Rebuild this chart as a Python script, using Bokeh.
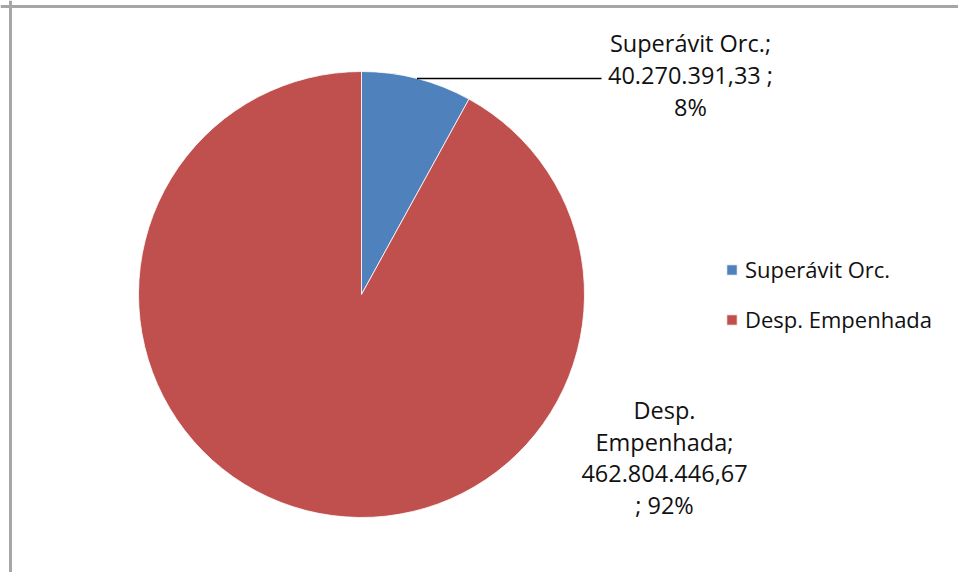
import math
from bokeh.plotting import figure
from bokeh.models import Range1d, Span, Legend, LegendItem
from bokeh.core.properties import value
from bokeh.embed import file_html
from bokeh.resources import INLINE

# ---- data ----
categories = ["Superávit Orc.", "Desp. Empenhada"]
values = [40270391.33, 462804446.67]
value_labels = ["40.270.391,33", "462.804.446,67"]
pct_labels = ["8%", "92%"]
colors = ["#4F81BD", "#C0504D"]

W, H = 958, 572
FONT = "Open Sans"

p = figure(width=W, height=H, output_backend="svg", toolbar_location=None,
           x_range=Range1d(0, W), y_range=Range1d(0, H),
           min_border=0, min_border_left=0, min_border_right=0,
           min_border_top=0, min_border_bottom=0)
p.axis.visible = False
p.grid.visible = False
p.outline_line_color = None
p.background_fill_color = "white"
p.border_fill_color = "white"

# pie geometry (layout)
cx, cy, r = 361, 278, 223

total = sum(values)
fracs = [v / total for v in values]
starts, ends = [], []
a = math.pi / 2
for f in fracs:
    starts.append(a)
    a = a - f * 2 * math.pi
    ends.append(a)

rends = []
for i in range(len(values)):
    rr = p.wedge(x=cx, y=cy, radius=r, start_angle=starts[i], end_angle=ends[i],
                 direction="clock", fill_color=colors[i], line_color="white",
                 line_width=0.8)
    rends.append(rr)

# leader line for the small slice
mid = (starts[0] + ends[0]) / 2
lx = cx + r * math.cos(mid)
ly = cy + r * math.sin(mid)
p.line([lx, 601], [ly, ly], line_color="#000000", line_width=1.5)

# data labels
lab1 = f"{categories[0]};\n{value_labels[0]} ;\n{pct_labels[0]}"
lab2 = "Desp.\nEmpenhada;\n" + f"{value_labels[1]}\n; {pct_labels[1]}"
p.text(x=[690], y=[498], text=[lab1], text_align="center", text_baseline="middle",
       text_font=value(FONT), text_font_size="23.5px", text_color="#111111",
       text_line_height=1.0)
p.text(x=[664], y=[115], text=[lab2], text_align="center", text_baseline="middle",
       text_font=value(FONT), text_font_size="23.5px", text_color="#111111",
       text_line_height=0.98)

# legend
legend = Legend(items=[LegendItem(label=categories[i], renderers=[rends[i]]) for i in range(2)],
                location=(725, 238), orientation="vertical",
                label_text_font=FONT, label_text_font_size="22px",
                label_text_color="#111111",
                glyph_width=13, glyph_height=13, label_standoff=7,
                spacing=20, padding=0, margin=0,
                border_line_color=None, background_fill_alpha=0)
p.add_layout(legend)

# chart frame (left and top edges visible)
p.add_layout(Span(location=10, dimension="height", line_color="#a6a6a6", line_width=3))
p.add_layout(Span(location=H - 6, dimension="width", line_color="#a6a6a6", line_width=3))

open("out.html", "w").write(file_html(p, INLINE))
